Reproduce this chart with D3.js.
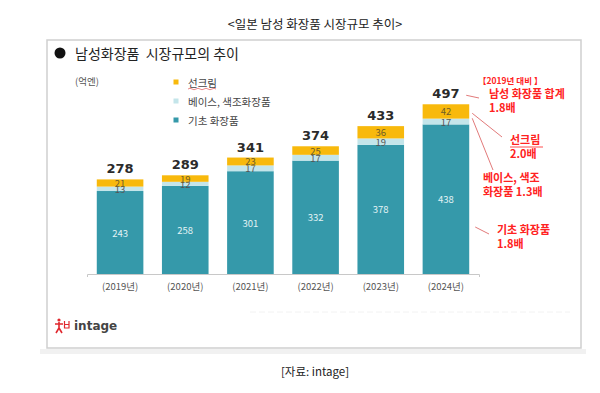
<!DOCTYPE html>
<html>
<head>
<meta charset="utf-8">
<script src="https://cdn.jsdelivr.net/npm/d3@7"></script>
<style>
  body { margin: 0; background: #fff; }
  svg text { font-family: "Noto Sans CJK KR", "DejaVu Sans", sans-serif; }
</style>
</head>
<body>
<div id="chart"></div>
<script>
// data (억엔)
var years = ["2019년", "2020년", "2021년", "2022년", "2023년", "2024년"];
var basicCare = [243, 258, 301, 332, 378, 438];
var baseMakeup = [13, 12, 17, 17, 19, 17];
var sunscreen = [21, 19, 23, 25, 36, 42];
var totals = [278, 289, 341, 374, 433, 497];

var seriesNames = ["기초 화장품", "베이스, 색조화장품", "선크림"];
var legendNames = ["선크림", "베이스, 색조화장품", "기초 화장품"];
var colors = ["#3599aa", "#c4e5ea", "#f8b90c"];

var notes = [
  { lines: ["남성 화장품 합계", "1.8배"] },
  { lines: ["선크림", "2.0배"] },
  { lines: ["베이스, 색조", "화장품 1.3배"] },
  { lines: ["기초 화장품", "1.8배"] }
];

var width = 600, height = 393;

var svg = d3.select("#chart").append("svg")
    .attr("width", width)
    .attr("height", height);

svg.append("rect").attr("width", width).attr("height", height).attr("fill", "#fff");

// page title
svg.append("text")
    .attr("x", 315).attr("y", 23)
    .attr("text-anchor", "middle")
    .attr("dominant-baseline", "central")
    .attr("font-size", 12.5)
    .attr("fill", "#222")
    .text("<일본 남성 화장품 시장규모 추이>");

// frame + shadow
svg.append("rect").attr("x", 40).attr("y", 349).attr("width", 546).attr("height", 5).attr("fill", "#f1f1f1");
svg.append("rect")
    .attr("x", 47).attr("y", 40).attr("width", 534).attr("height", 308)
    .attr("fill", "#fff").attr("stroke", "#cfcfcf").attr("stroke-width", 1.5);

svg.append("circle").attr("cx", 60).attr("cy", 53).attr("r", 5.5).attr("fill", "#111");
svg.append("text")
    .attr("x", 75).attr("y", 53)
    .attr("dominant-baseline", "central")
    .attr("font-size", 14)
    .attr("fill", "#222")
    .attr("xml:space", "preserve")
    .text("남성화장품  시장규모의 추이");

svg.append("text")
    .attr("x", 75).attr("y", 81)
    .attr("dominant-baseline", "central")
    .attr("font-size", 9.5)
    .attr("fill", "#555")
    .text("(억엔)");

// legend
var legend = svg.append("g").selectAll("g")
    .data(legendNames)
    .enter().append("g")
    .attr("transform", function(d, i) { return "translate(176," + (82 + i * 19) + ")"; });

legend.append("rect")
    .attr("x", -2.5).attr("y", -2.5).attr("width", 5).attr("height", 5)
    .attr("fill", function(d) { return colors[seriesNames.indexOf(d)]; });

legend.append("text")
    .attr("x", 12)
    .attr("dominant-baseline", "central")
    .attr("font-size", 10.5)
    .attr("fill", "#444")
    .text(function(d) { return d; });

// spellcheck squiggle under legend "선크림"
svg.append("path")
    .attr("d", "M188,89 q2,-1.5 4,0 t4,0 t4,0 t4,0 t4,0 t4,0 t4,0")
    .attr("fill", "none").attr("stroke", "#e05555").attr("stroke-width", 0.7);

// scales
var x = d3.scaleBand()
    .domain(years)
    .range([87, 479])
    .paddingInner(0.285)
    .paddingOuter(0.15);

var y = d3.scaleLinear()
    .domain([0, 500])
    .range([274, 274 - 500 * 0.3415]);

var stackData = years.map(function(yr, i) {
  return { year: yr, "기초 화장품": basicCare[i], "베이스, 색조화장품": baseMakeup[i], "선크림": sunscreen[i], total: totals[i] };
});

var series = d3.stack().keys(seriesNames)(stackData);

var layers = svg.append("g").selectAll("g")
    .data(series)
    .enter().append("g")
    .attr("fill", function(d, i) { return colors[i]; });

layers.selectAll("rect")
    .data(function(d) { return d; })
    .enter().append("rect")
    .attr("x", function(d) { return x(d.data.year); })
    .attr("y", function(d) { return y(d[1]); })
    .attr("height", function(d) { return y(d[0]) - y(d[1]); })
    .attr("width", x.bandwidth());

// segment labels
var labelStyle = [
  { color: "#e3f3f5", size: 9.5 },
  { color: "#555", size: 9.5 },
  { color: "#6e5e28", size: 9.5 }
];

layers.each(function(s, si) {
  d3.select(this).selectAll("text")
      .data(s)
      .enter().append("text")
      .attr("x", function(d) { return x(d.data.year) + x.bandwidth() / 2; })
      .attr("y", function(d) { return (y(d[0]) + y(d[1])) / 2; })
      .attr("text-anchor", "middle")
      .attr("dominant-baseline", "central")
      .attr("font-family", "DejaVu Sans")
      .attr("font-size", labelStyle[si].size)
      .attr("fill", labelStyle[si].color)
      .text(function(d) { return d.data[s.key]; });
});

// totals
svg.append("g").selectAll("text")
    .data(stackData)
    .enter().append("text")
    .attr("x", function(d) { return x(d.year) + x.bandwidth() / 2; })
    .attr("y", function(d) { return y(d.total) - 6; })
    .attr("text-anchor", "middle")
    .style("font-family", "DejaVu Sans")
    .attr("font-weight", "bold")
    .attr("font-size", 13)
    .attr("fill", "#2b2b2b")
    .text(function(d) { return d.total; });

// x axis
var xAxis = svg.append("g")
    .attr("transform", "translate(0,274)")
    .call(d3.axisBottom(x).tickSize(0).tickSizeOuter(3).tickPadding(9)
      .tickFormat(function(d) { return "(" + d + ")"; }));

xAxis.select(".domain").attr("stroke", "#c8c8c8");
xAxis.selectAll("text")
    .attr("font-size", 9.5)
    .attr("fill", "#555")
    .style("font-family", "\"Noto Sans CJK KR\", sans-serif");

// red notes
var red = "#ff2222";
svg.append("text")
    .attr("x", 478).attr("y", 80)
    .attr("dominant-baseline", "central")
    .attr("font-size", 8.5)
    .attr("font-weight", "bold")
    .attr("fill", red)
    .text("【2019년 대비 】");

var notePos = [
  { x: 489, y: 94 },
  { x: 510, y: 140 },
  { x: 483, y: 178 },
  { x: 497, y: 230 }
];

notes.forEach(function(n, i) {
  var t = svg.append("text")
      .attr("x", notePos[i].x).attr("y", notePos[i].y)
      .attr("font-size", 11)
      .attr("font-weight", "bold")
      .attr("fill", red);
  n.lines.forEach(function(l, j) {
    t.append("tspan")
        .attr("x", notePos[i].x)
        .attr("dy", j === 0 ? "0.35em" : "1.3em")
        .text(l);
  });
});

// underline for note "선크림"
svg.append("line")
    .attr("x1", 510).attr("x2", 543).attr("y1", 147).attr("y2", 147)
    .attr("stroke", red).attr("stroke-width", 0.8);

// pointer lines from last bar
var last = stackData[stackData.length - 1];
var bx = x(last.year) + x.bandwidth();
var pointers = [
  [bx - 3, y(last.total) - 9, 479, 98],
  [bx + 3, y(last.total) + 9, 502, 137],
  [bx + 3, y(last.total) + 14, 493, 170],
  [bx + 6, 227, 489, 234]
];
svg.append("g").selectAll("line")
    .data(pointers)
    .enter().append("line")
    .attr("x1", function(d) { return d[0]; })
    .attr("y1", function(d) { return d[1]; })
    .attr("x2", function(d) { return d[2]; })
    .attr("y2", function(d) { return d[3]; })
    .attr("stroke", "#e27a7a")
    .attr("stroke-width", 1);

// faint separator
svg.append("line")
    .attr("x1", 250).attr("x2", 570).attr("y1", 312).attr("y2", 312)
    .attr("stroke", "#f2f2f2").attr("stroke-dasharray", "6,3");

// intage logo
var logo = svg.append("g").attr("transform", "translate(55,318)").attr("stroke", "#e0282e").attr("fill", "none").attr("stroke-width", 1.6);
logo.append("circle").attr("cx", 4).attr("cy", 2).attr("r", 1.6).attr("fill", "#e0282e").attr("stroke", "none");
logo.append("path").attr("d", "M0,6 L8,6 M4,4 L4,10 L1,15 M4,10 L7,15");
logo.append("path").attr("d", "M9.5,3 L9.5,10 L14,10 L14,3 M9.5,6.5 L14,6.5").attr("stroke-width", 1.2);

svg.append("text")
    .attr("x", 74).attr("y", 326)
    .attr("dominant-baseline", "central")
    .style("font-family", "\"DejaVu Sans\", sans-serif")
    .attr("font-weight", "bold")
    .attr("font-size", 12)
    .attr("fill", "#444")
    .text("intage");

// source
svg.append("text")
    .attr("x", 315).attr("y", 371)
    .attr("text-anchor", "middle")
    .attr("dominant-baseline", "central")
    .attr("font-size", 11.5)
    .attr("fill", "#222")
    .text("[자료: intage]");
</script>
</body>
</html>
